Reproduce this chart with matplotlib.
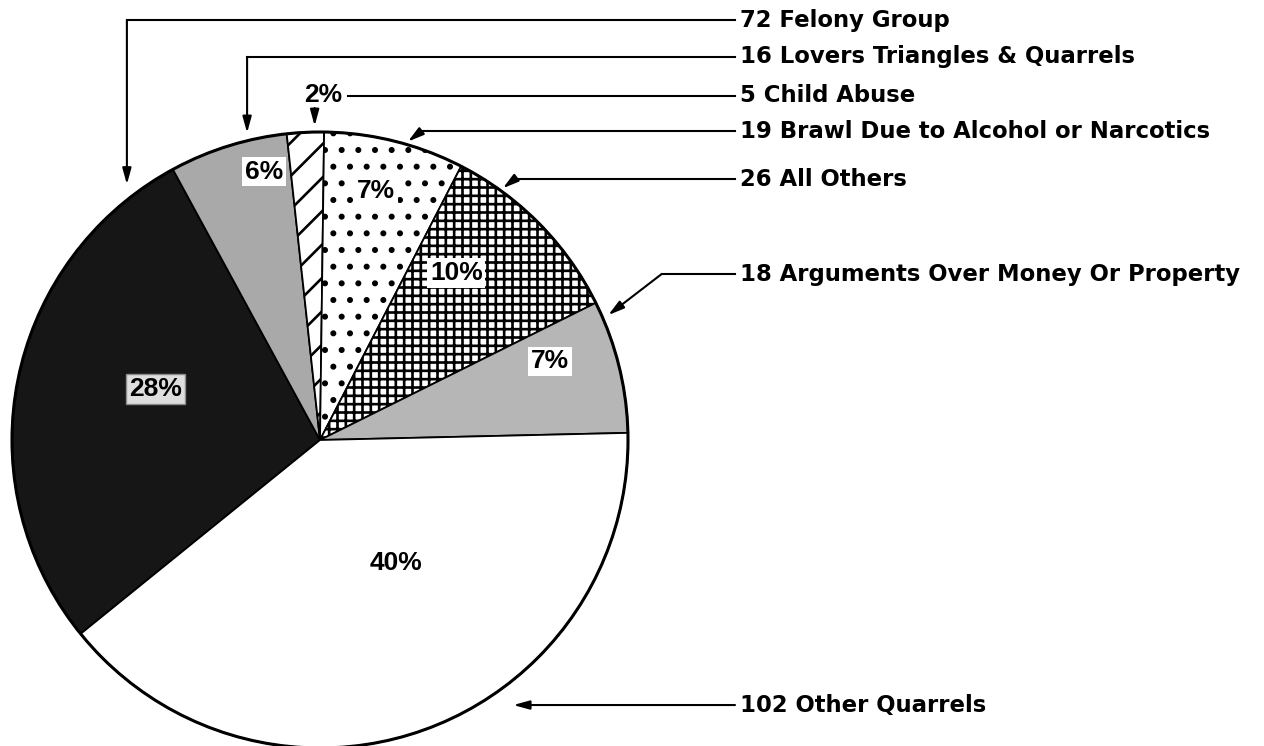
import numpy as np
import matplotlib
matplotlib.use("Agg")
import matplotlib.pyplot as plt
from matplotlib.patches import Circle

# ---------------- data ----------------
categories = ["Felony Group", "Lovers Triangles & Quarrels", "Child Abuse",
              "Brawl Due to Alcohol or Narcotics", "All Others",
              "Arguments Over Money Or Property", "Other Quarrels"]
counts = [72, 16, 5, 19, 26, 18, 102]
pct_labels = ["28%", "6%", "2%", "7%", "10%", "7%", "40%"]

# ---------------- style ----------------
W, H = 1264, 746
plt.rcParams['hatch.linewidth'] = 1.9
ANN_FONT = dict(family="DejaVu Sans", weight="bold", size=16.4)
PCT_FONT = dict(family="Liberation Sans", weight="bold", size=19)

faces = ['#161616', '#a9a9a9', 'white', 'white', 'white', '#b6b6b6', 'white']
hatches = [None, None, '/', '.', '++', None, None]

# label placement inside wedges: (fraction along wedge clockwise, radius fraction)
pct_pos = [(0.56, 0.56), (0.75, 0.89), None, (0.45, 0.83), (0.33, 0.70),
           (0.30, 0.79), (0.42, 0.47)]
# arrow tip placement: (fraction along wedge, radius fraction)
tip_pos = [(0.915, 1.04), (0.68, 1.025), (0.75, 1.02), (0.59, 1.01),
           (0.24, 1.01), (0.12, 1.02), (0.388, 1.065)]
# leader style: 'drop' (horizontal then vertical), 'diag' (horizontal then diagonal), 'flat'
leader_kind = ['drop', 'drop', 'drop', 'diag', 'diag', 'diag', 'flat']
row_y_px = [20, 57, 95, 131, 179, 274, None]
TEXT_X = 740
LINE_END_X = 735


def P(x, y):
    """pixel coords (y down) -> data coords (y up)"""
    return (x, H - y)


fig = plt.figure(figsize=(W / 100, H / 100), dpi=100)
ax = fig.add_axes([0, 0, 1, 1])

cx, cy = P(320, 440)
R = 308

wedges, _ = ax.pie(counts, center=(cx, cy), radius=R, startangle=219,
                   counterclock=False, colors=faces,
                   wedgeprops=dict(edgecolor='black', linewidth=1.3))
for w, h in zip(wedges, hatches):
    if h:
        w.set_hatch(h)

ax.add_patch(Circle((cx, cy), R, fill=False, lw=2.2, ec='black', zorder=3))


def wedge_point(w, t, rf):
    a = np.deg2rad(w.theta2 - t * (w.theta2 - w.theta1))
    return cx + rf * R * np.cos(a), cy + rf * R * np.sin(a)


# percentage labels
for i, (w, lab) in enumerate(zip(wedges, pct_labels)):
    if pct_pos[i] is None:
        continue
    x, y = wedge_point(w, *pct_pos[i])
    if i == 0:
        bbox = dict(boxstyle='square,pad=0.12', fc='#dedede', ec='#8a8a8a', lw=1.0)
    elif i == 6:
        bbox = None
    else:
        bbox = dict(boxstyle='square,pad=0.1', fc='white', ec='none')
    ax.text(x, y, lab, ha='center', va='center', bbox=bbox, zorder=5, **PCT_FONT)

arrow_kw = dict(arrowstyle='-|>,head_length=0.8,head_width=0.22', lw=1.5,
                color='black', shrinkA=0, shrinkB=0, mutation_scale=12)

for i, (w, cat, n) in enumerate(zip(wedges, categories, counts)):
    tx, ty = wedge_point(w, *tip_pos[i])
    kind = leader_kind[i]
    if kind == 'flat':
        ry = ty
    else:
        ry = H - row_y_px[i]
    ax.text(TEXT_X, ry, f"{n} {cat}", ha='left', va='center', zorder=5, **ANN_FONT)

    if kind == 'drop':
        if i == 2:
            # small-slice label above the slice with its own leader
            lx = tx + 9
            ax.text(lx, ry, pct_labels[i], ha='center', va='center', zorder=5, **PCT_FONT)
            ax.plot([lx + 24, LINE_END_X], [ry - 1, ry - 1], color='black', lw=1.5)
            ax.annotate('', xy=(tx, ty), xytext=(tx, ry - 13), arrowprops=arrow_kw)
        else:
            ax.plot([LINE_END_X, tx], [ry, ry], color='black', lw=1.5,
                    solid_capstyle='projecting')
            ax.annotate('', xy=(tx, ty), xytext=(tx, ry), arrowprops=arrow_kw)
    elif kind == 'diag':
        bx = tx + 1.3 * (ry - ty)
        ax.plot([LINE_END_X, bx], [ry, ry], color='black', lw=1.5)
        ax.annotate('', xy=(tx, ty), xytext=(bx, ry), arrowprops=arrow_kw)
    else:
        ax.annotate('', xy=(tx, ty), xytext=(LINE_END_X, ry), arrowprops=arrow_kw)

ax.set_xlim(0, W)
ax.set_ylim(0, H)
ax.set_aspect('equal')
ax.axis('off')

fig.savefig("out.png", dpi=100, facecolor='white')
